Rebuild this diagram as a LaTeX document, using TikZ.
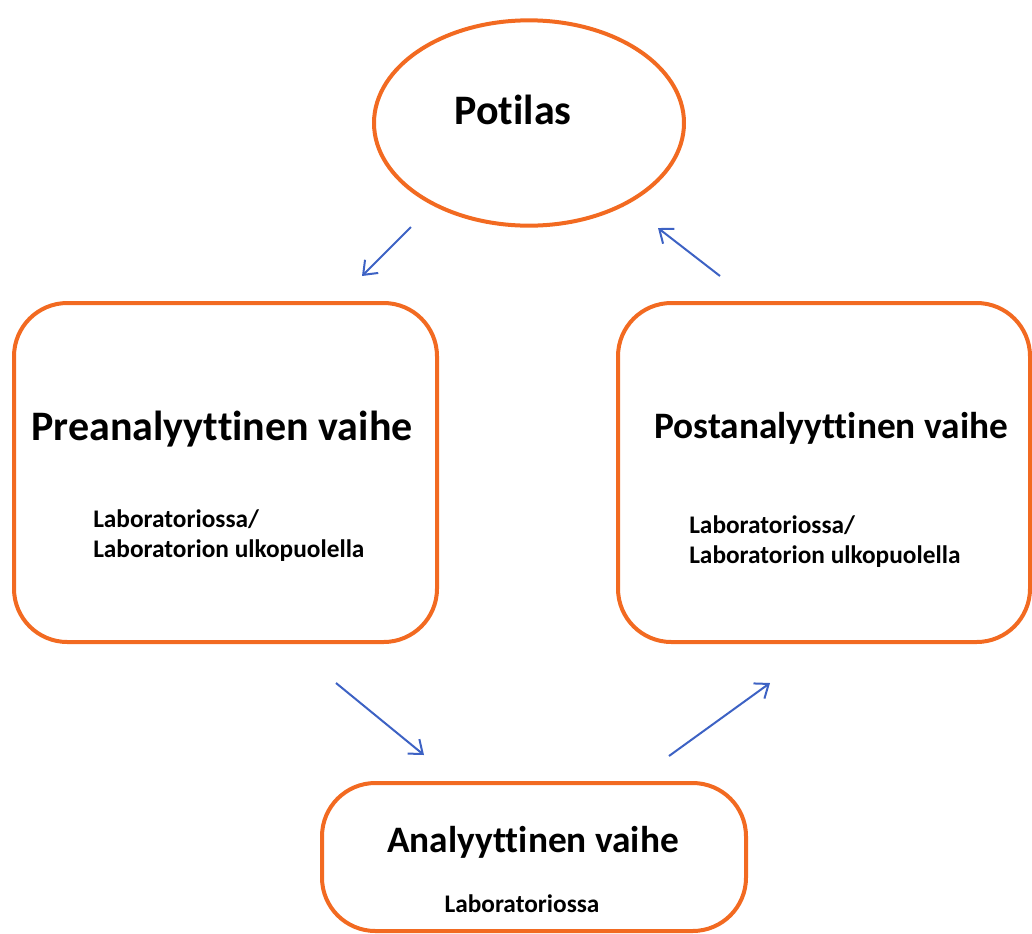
\documentclass[tikz,border=0pt]{standalone}
\usepackage{fontspec}
\setmainfont[Ligatures=NoCommon]{Carlito}
\usetikzlibrary{shapes.geometric,arrows.meta}
\definecolor{orng}{HTML}{F26A21}
\definecolor{arrblue}{HTML}{3D62C4}
\tikzset{
  phase/.style={draw=orng, line width=3pt, rounded corners=40pt, fill=white},
  flow/.style={draw=arrblue, line width=1.5pt, -{Straight Barb[length=9pt,width=14pt,line width=1.5pt]}},
  bigtxt/.style={font=\fontsize{31.5}{36}\selectfont\bfseries, inner sep=0pt},
  midtxt/.style={font=\fontsize{28}{33}\selectfont\bfseries, inner sep=0pt},
  smalltxt/.style={font=\fontsize{19}{23}\selectfont\bfseries, inner sep=0pt}
}
\begin{document}
\begin{tikzpicture}[x=0.75pt,y=-0.75pt]
\useasboundingbox (0,0) rectangle (1032,933);
% boxes
\draw[phase] (14,303) rectangle (437,642);
\draw[phase] (618,303) rectangle (1030,642);
\draw[phase] (322,783) rectangle (746,931);
\node[ellipse, draw=orng, line width=3pt, minimum width=232.5pt, minimum height=154pt, inner sep=0pt] (pot) at (529,123) {};
% texts
\node[bigtxt, anchor=base] (tpot) at (513,124) {Potilas};
\node[bigtxt, anchor=base] (tpre) at (222,440) {Preanalyyttinen vaihe};
\node[smalltxt, anchor=base west] (spre1) at (93,527) {Laboratoriossa/};
\node[smalltxt, anchor=base west] (spre2) at (93,557) {Laboratorion ulkopuolella};
\node[midtxt, anchor=base] (tpost) at (831,438) {Postanalyyttinen vaihe};
\node[smalltxt, anchor=base west] (spost1) at (689,533) {Laboratoriossa/};
\node[smalltxt, anchor=base west] (spost2) at (689,563) {Laboratorion ulkopuolella};
\node[midtxt, anchor=base] (tana) at (533,852) {Analyyttinen vaihe};
\node[smalltxt, anchor=base] (sana) at (522,912) {Laboratoriossa};
% arrows
\coordinate (a1s) at (411,227); \coordinate (a1e) at (362,276);
\coordinate (a2s) at (720,276); \coordinate (a2e) at (658,228);
\coordinate (a3s) at (336,683); \coordinate (a3e) at (424,755);
\coordinate (a4s) at (669,756); \coordinate (a4e) at (770,683);
\draw[flow] (a1s) -- (a1e);
\draw[flow] (a2s) -- (a2e);
\draw[flow] (a3s) -- (a3e);
\draw[flow] (a4s) -- (a4e);
\end{tikzpicture}
\end{document}
